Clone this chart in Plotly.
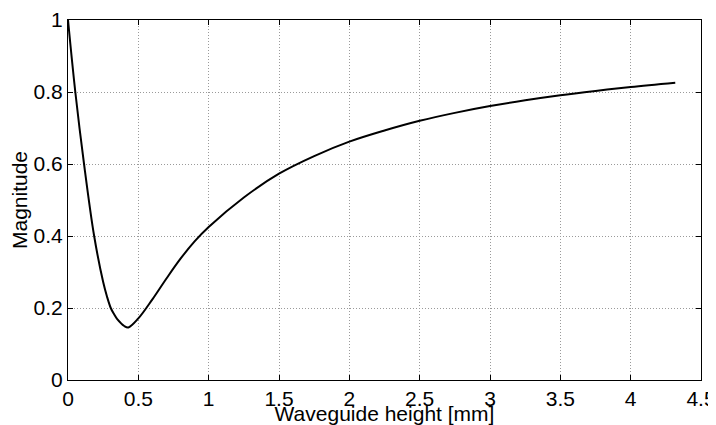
import plotly.graph_objects as go

height_mm = [0.0, 0.052, 0.114, 0.186, 0.25, 0.277, 0.304, 0.327, 0.35, 0.40, 0.429,
             0.5, 0.6, 0.7, 0.8, 0.9, 1.0, 1.25, 1.5, 1.75, 2.0, 2.25, 2.5, 2.75,
             3.0, 3.25, 3.5, 3.75, 4.0, 4.317]
magnitude = [1.0, 0.8, 0.6, 0.4, 0.272, 0.232, 0.2, 0.183, 0.169, 0.150, 0.146,
             0.171, 0.224, 0.282, 0.337, 0.385, 0.425, 0.507, 0.573, 0.622, 0.662,
             0.693, 0.720, 0.742, 0.761, 0.777, 0.791, 0.803, 0.814, 0.826]

x_ticks = [0, 0.5, 1, 1.5, 2, 2.5, 3, 3.5, 4, 4.5]
x_labels = ["0", "0.5", "1", "1.5", "2", "2.5", "3", "3.5", "4", "4.5"]
y_ticks = [0, 0.2, 0.4, 0.6, 0.8, 1]
y_labels = ["0", "0.2", "0.4", "0.6", "0.8", "1"]

FONT = "Liberation Sans, Arial, Helvetica, sans-serif"

fig = go.Figure()
fig.add_trace(go.Scatter(
    x=height_mm, y=magnitude, mode="lines",
    line=dict(color="black", width=2, shape="spline", smoothing=1.0),
    showlegend=False, hoverinfo="skip"))

axis_common = dict(
    showline=True, linecolor="black", linewidth=1, mirror="ticks",
    ticks="inside", ticklen=5, tickcolor="black", tickwidth=1,
    showgrid=True, gridcolor="#9a9a9a", griddash="1px,2px", gridwidth=1,
    zeroline=False, tickfont=dict(size=21, color="black", family=FONT),
    automargin=False, ticklabeloverflow="allow",
)

fig.update_xaxes(range=[0, 4.5], tickvals=x_ticks, ticktext=x_labels,
                 title=dict(text="Waveguide height [mm]", standoff=0,
                            font=dict(size=21, color="black", family=FONT)),
                 **axis_common)
fig.update_yaxes(range=[0, 1], tickvals=y_ticks, ticktext=y_labels,
                 title=dict(text="Magnitude", standoff=0,
                            font=dict(size=21, color="black", family=FONT)),
                 **axis_common)

fig.update_layout(
    width=708, height=417,
    margin=dict(l=60, r=15, t=12, b=45),
    paper_bgcolor="white", plot_bgcolor="white",
    font=dict(family=FONT, color="black"),
)

fig.write_html("out.html")
